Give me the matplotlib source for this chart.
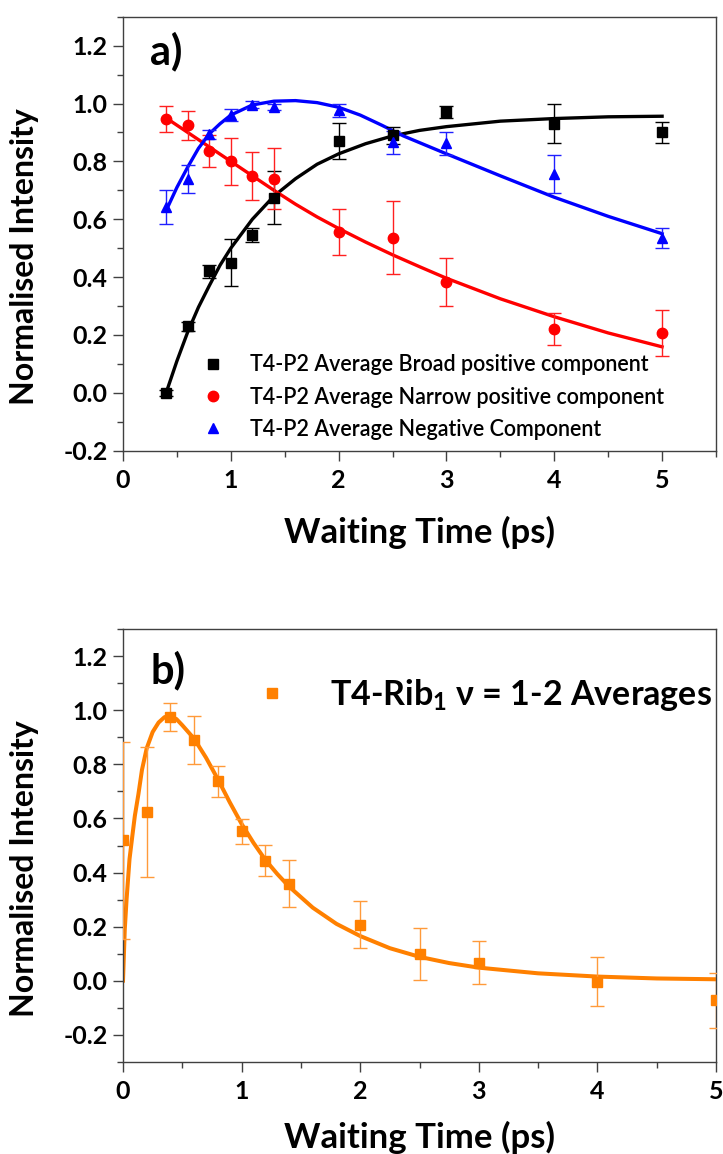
import numpy as np
import matplotlib
matplotlib.use("Agg")
import matplotlib.pyplot as plt
from matplotlib.ticker import MultipleLocator

plt.rcParams['font.family'] = ['Lato', 'DejaVu Sans']
plt.rcParams['mathtext.fontset'] = 'custom'
plt.rcParams['mathtext.rm'] = 'Lato'
plt.rcParams['mathtext.bf'] = 'Lato:bold'

# ---- panel a) data (read from figure) ----
t_a = [0.4, 0.6, 0.8, 1.0, 1.2, 1.4, 2.0, 2.5, 3.0, 4.0, 5.0]
broad = [0.0, 0.23, 0.42, 0.45, 0.545, 0.675, 0.87, 0.89, 0.97, 0.93, 0.90]
broad_err = [0.01, 0.015, 0.022, 0.08, 0.025, 0.09, 0.063, 0.03, 0.02, 0.067, 0.035]
narrow = [0.945, 0.925, 0.835, 0.80, 0.75, 0.74, 0.557, 0.536, 0.383, 0.222, 0.207]
narrow_err = [0.045, 0.05, 0.055, 0.08, 0.084, 0.105, 0.08, 0.126, 0.082, 0.055, 0.078]
negative = [0.642, 0.74, 0.894, 0.96, 0.995, 0.989, 0.977, 0.866, 0.862, 0.757, 0.535]
negative_err = [0.06, 0.048, 0.015, 0.02, 0.012, 0.01, 0.022, 0.04, 0.04, 0.065, 0.035]

# fitted curves
fit_t_broad = [0.4, 0.5, 0.6, 0.7, 0.8, 0.9, 1.0, 1.2, 1.4, 1.6, 1.8, 2.0, 2.25, 2.5, 2.75, 3.0, 3.5, 4.0, 4.5, 5.0]
fit_broad = [0.0, 0.11, 0.21, 0.296, 0.37, 0.441, 0.50, 0.60, 0.68, 0.74, 0.79, 0.826, 0.861, 0.888, 0.907, 0.92, 0.939, 0.948, 0.954, 0.956]
fit_t_narrow = [0.4, 0.6, 0.8, 1.0, 1.2, 1.4, 1.6, 1.8, 2.0, 2.25, 2.5, 2.75, 3.0, 3.5, 4.0, 4.5, 5.0]
fit_narrow = [0.95, 0.90, 0.85, 0.80, 0.75, 0.70, 0.652, 0.608, 0.568, 0.521, 0.477, 0.436, 0.396, 0.325, 0.263, 0.207, 0.159]
fit_t_neg = [0.4, 0.5, 0.6, 0.7, 0.8, 0.9, 1.0, 1.2, 1.4, 1.6, 1.8, 2.0, 2.2, 2.4, 2.6, 2.8, 3.0, 3.5, 4.0, 4.5, 5.0]
fit_neg = [0.63, 0.71, 0.78, 0.845, 0.895, 0.93, 0.96, 0.995, 1.008, 1.01, 1.003, 0.987, 0.96, 0.925, 0.888, 0.857, 0.826, 0.75, 0.676, 0.61, 0.55]

# ---- panel b) data ----
t_b = [0.0, 0.2, 0.4, 0.6, 0.8, 1.0, 1.2, 1.4, 2.0, 2.5, 3.0, 4.0, 5.0]
rib = [0.519, 0.623, 0.975, 0.89, 0.738, 0.552, 0.444, 0.359, 0.206, 0.098, 0.067, -0.004, -0.072]
rib_err = [0.365, 0.24, 0.053, 0.09, 0.057, 0.045, 0.058, 0.086, 0.087, 0.095, 0.081, 0.09, 0.102]
fit_t_rib = [0.0, 0.015, 0.03, 0.055, 0.08, 0.1, 0.13, 0.16, 0.2, 0.25, 0.3, 0.35, 0.4, 0.45, 0.5, 0.6, 0.7, 0.8, 0.9,
             1.0, 1.1, 1.2, 1.3, 1.4, 1.6, 1.8, 2.0, 2.25, 2.5, 2.75, 3.0, 3.5, 4.0, 4.5, 5.0]
fit_rib = [0.0, 0.19, 0.30, 0.45, 0.54, 0.61, 0.69, 0.78, 0.86, 0.92, 0.955, 0.975, 0.978, 0.968, 0.945, 0.895, 0.825, 0.745, 0.66,
           0.58, 0.51, 0.447, 0.395, 0.348, 0.27, 0.21, 0.165, 0.12, 0.088, 0.065, 0.048, 0.027, 0.015, 0.008, 0.005]

W, H = 723, 1154
fig = plt.figure(figsize=(W / 100, H / 100), dpi=100)
ax1 = fig.add_axes([123 / W, 1 - 450.7 / H, 593 / W, 434 / H])
ax2 = fig.add_axes([123 / W, 1 - 1061.7 / H, 593 / W, 432.4 / H])

spine_col = '#404040'


def style(ax, xmax, ymin):
    ax.set_xlim(0, xmax)
    ax.set_ylim(ymin, 1.3)
    ax.xaxis.set_major_locator(MultipleLocator(1))
    ax.xaxis.set_minor_locator(MultipleLocator(0.5))
    ax.yaxis.set_minor_locator(MultipleLocator(0.1))
    ax.set_yticks(np.arange(-0.2, 1.21, 0.2))
    ax.set_yticklabels(['%.1f' % v for v in np.arange(-0.2, 1.21, 0.2)])
    ax.tick_params(which='major', direction='out', length=7, width=1, color=spine_col,
                   labelsize=18, pad=4)
    ax.tick_params(axis='x', which='major', pad=6)
    ax.tick_params(which='minor', direction='out', length=4, width=1, color=spine_col)
    for lab in ax.get_xticklabels() + ax.get_yticklabels():
        lab.set_fontweight('bold')
    for sp in ax.spines.values():
        sp.set_color(spine_col)
        sp.set_linewidth(1.0)


# panel a
series = [
    (fit_t_broad, fit_broad, broad, broad_err, 'black', 'black', 's', 6.5, 'T4-P2 Average Broad positive component'),
    (fit_t_narrow, fit_narrow, narrow, narrow_err, 'red', '#ff2020', 'o', 7.5, 'T4-P2 Average Narrow positive component'),
    (fit_t_neg, fit_neg, negative, negative_err, 'blue', '#2020ff', '^', 7.5, 'T4-P2 Average Negative Component'),
]
handles = []
for ft, fy, y, e, c, ec, m, ms, lab in series:
    ax1.plot(ft, fy, color=c, lw=2.4, zorder=2)
    ax1.errorbar(t_a, y, yerr=e, fmt='none', ecolor=ec, elinewidth=1, capsize=5, capthick=1, zorder=3)
    h, = ax1.plot(t_a, y, m, color=c, ms=ms, ls='none', label=lab, zorder=4)
    handles.append(h)

style(ax1, 5.5, -0.2)
ax1.legend(handles=handles, loc='upper left', bbox_to_anchor=(0.134, 0.222), frameon=False,
           prop={'size': 15.5, 'weight': 'semibold'}, handlelength=1.0, handletextpad=1.2,
           labelspacing=0.52, borderpad=0, borderaxespad=0)
ax1.text(0.046, 0.92, 'a)', transform=ax1.transAxes, fontsize=30, fontweight='bold', va='center')

# panel b
orange = '#ff8000'
ax2.plot(fit_t_rib, fit_rib, color=orange, lw=2.9, zorder=2)
ax2.errorbar(t_b, rib, yerr=rib_err, fmt='none', ecolor='#ff9a3a', elinewidth=1, capsize=5, capthick=1, zorder=3)
h2, = ax2.plot(t_b, rib, 's', color=orange, ms=7.5, ls='none', zorder=4,
               label=r'T4-Rib$_\mathbf{1}$ ν = 1-2 Averages')
style(ax2, 5, -0.3)
ax2.legend(handles=[h2], loc='upper left', bbox_to_anchor=(0.2226, 0.89), frameon=False,
           prop={'size': 24.5, 'weight': 'bold'}, handlelength=1.0, handletextpad=1.2,
           borderpad=0, borderaxespad=0)
ax2.text(0.046, 0.905, 'b)', transform=ax2.transAxes, fontsize=30, fontweight='bold', va='center')

# axis labels
for yc in (257, 868.8):
    fig.text(25 / W, 1 - yc / H, 'Normalised Intensity', rotation=90, ha='center', va='center',
             fontsize=23, fontweight='bold')
for yb in (543, 1148):
    fig.text(419 / W, 1 - yb / H, 'Waiting Time (ps)', ha='center', va='baseline',
             fontsize=25, fontweight='bold')

fig.savefig('out.png', dpi=100)
